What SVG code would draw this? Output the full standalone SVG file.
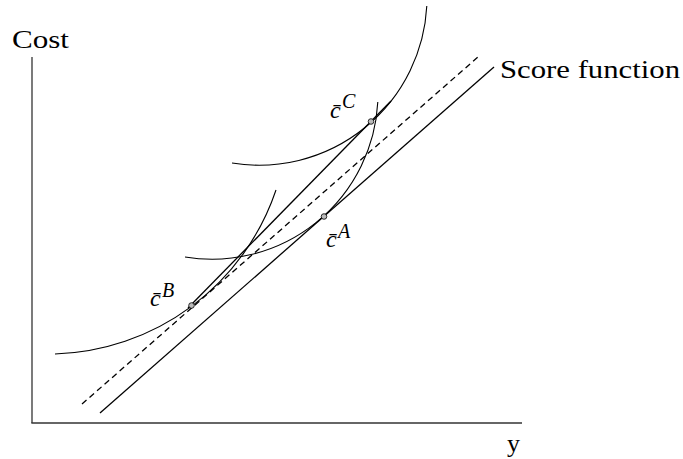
<svg xmlns="http://www.w3.org/2000/svg" width="683" height="459" viewBox="0 0 683 459">
<style>
.axis{stroke:#333;stroke-width:1.3;fill:none}
.ln{stroke:#000;stroke-width:1.3;fill:none}
.dash{stroke:#000;stroke-width:1.3;fill:none;stroke-dasharray:6 4}
.arc{stroke:#000;stroke-width:1.1;fill:none}
.pt{fill:#bbb;stroke:#000;stroke-width:0.8}
text{font-family:'Liberation Serif','Times New Roman',serif;fill:#000}
.lbl{font-size:26px}
.c{font-style:italic;font-size:24px}
.sup{font-style:italic;font-size:20px}
</style>
<rect width="683" height="459" fill="#fff"/>
<g id="axes">
<line class="axis" x1="32" y1="57" x2="32" y2="423"/>
<line class="axis" x1="31.35" y1="423" x2="522" y2="423"/>
<text class="lbl" x="12" y="48" textLength="57" lengthAdjust="spacingAndGlyphs">Cost</text>
<text class="lbl" x="507" y="452">y</text>
</g>
<g id="connectors">
<line id="score" class="ln" x1="100" y1="413" x2="494" y2="67"/>
<line id="dashed" class="dash" x1="82" y1="404" x2="478" y2="57"/>
<line id="bc" class="ln" x1="188" y1="308" x2="391" y2="101"/>
<path id="curveC" class="arc" d="M232,163 A168,168 0 0 0 426.8,6"/>
<path id="curveA" class="arc" d="M185,257 A166,166 0 0 0 377.8,102"/>
<path id="curveB" class="arc" d="M55,354 A241,241 0 0 0 276,190"/>
</g>
<g id="score-label">
<text class="lbl" x="500" y="78" textLength="180" lengthAdjust="spacingAndGlyphs">Score function</text>
</g>
<g id="pointC">
<circle class="pt" cx="371" cy="121.5" r="2.8"/>
<text class="c" x="330" y="118">c̄</text>
<text class="sup" x="342" y="108">C</text>
</g>
<g id="pointA">
<circle class="pt" cx="324" cy="216.5" r="2.8"/>
<text class="c" x="326" y="247">c̄</text>
<text class="sup" x="338" y="238">A</text>
</g>
<g id="pointB">
<circle class="pt" cx="191.5" cy="305.5" r="2.8"/>
<text class="c" x="150" y="306">c̄</text>
<text class="sup" x="162" y="297">B</text>
</g>
</svg>
